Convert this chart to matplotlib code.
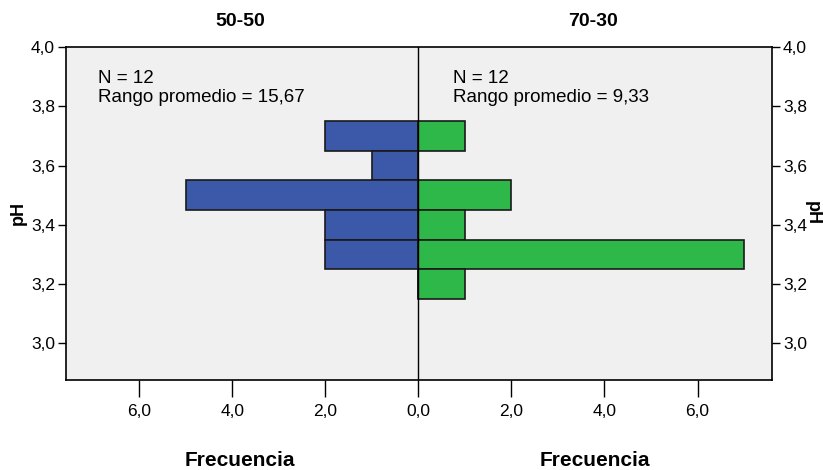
import matplotlib
matplotlib.use("Agg")
import matplotlib.pyplot as plt
from matplotlib.ticker import FixedLocator, FuncFormatter

plt.rcParams['font.family'] = ['Liberation Sans', 'DejaVu Sans']

bin_centers = [3.7, 3.6, 3.5, 3.4, 3.3, 3.2]
counts_5050 = [2, 1, 5, 2, 2, 0]
counts_7030 = [1, 0, 2, 1, 7, 1]
groups = ["50-50", "70-30"]
stats_text = ["N = 12\nRango promedio = 15,67", "N = 12\nRango promedio = 9,33"]
x_ticks = [-6, -4, -2, 0, 2, 4, 6]
y_ticks = [3.0, 3.2, 3.4, 3.6, 3.8, 4.0]

fig = plt.figure(figsize=(8.23, 4.70), dpi=100)
ax = fig.add_axes([66/823, 1-380/470, (772-66)/823, (380-47)/470])
ax.set_facecolor('#F0F0F0')

ax.barh(bin_centers, [-c for c in counts_5050], height=0.1, left=0,
        color='#3C58A8', edgecolor='#1a1a1a', linewidth=1.2, align='center')
ax.barh(bin_centers, counts_7030, height=0.1, left=0,
        color='#2EB84A', edgecolor='#1a1a1a', linewidth=1.2, align='center')
ax.axvline(0, color='black', linewidth=1.0)

ax.set_xlim(-7.57, 7.6)
ax.set_ylim(2.876, 4.0)

ax.xaxis.set_major_locator(FixedLocator(x_ticks))
ax.xaxis.set_major_formatter(FuncFormatter(lambda v, p: f"{abs(v):.1f}".replace('.', ',')))
ax.yaxis.set_major_locator(FixedLocator(y_ticks))
ax.yaxis.set_major_formatter(FuncFormatter(lambda v, p: f"{v:.1f}".replace('.', ',')))
ax.tick_params(axis='x', length=12, width=1, labelsize=12.5, pad=5)
ax.tick_params(axis='y', length=6, width=1, labelsize=12.5, pad=2,
               left=True, right=True, labelleft=True, labelright=True)
for s in ax.spines.values():
    s.set_linewidth(1.2)

ax.text(0.045, 0.93, stats_text[0], transform=ax.transAxes, ha='left', va='top',
        fontsize=13.5, linespacing=1.15)
ax.text(0.548, 0.93, stats_text[1], transform=ax.transAxes, ha='left', va='top',
        fontsize=13.5, linespacing=1.15)

fig.text(240/823, 1-22/470, groups[0], ha='center', va='center', fontsize=14, fontweight='bold')
fig.text(593/823, 1-22/470, groups[1], ha='center', va='center', fontsize=14, fontweight='bold')
fig.text(240/823, 1-460/470, "Frecuencia", ha='center', va='center', fontsize=15, fontweight='bold')
fig.text(595/823, 1-460/470, "Frecuencia", ha='center', va='center', fontsize=15, fontweight='bold')
fig.text(18/823, 1-213/470, "pH", ha='center', va='center', fontsize=13, fontweight='bold', rotation=90)
fig.text(812/823, 1-213/470, "pH", ha='center', va='center', fontsize=13, fontweight='bold', rotation=270)

fig.savefig("out.png", dpi=100, facecolor='white')
